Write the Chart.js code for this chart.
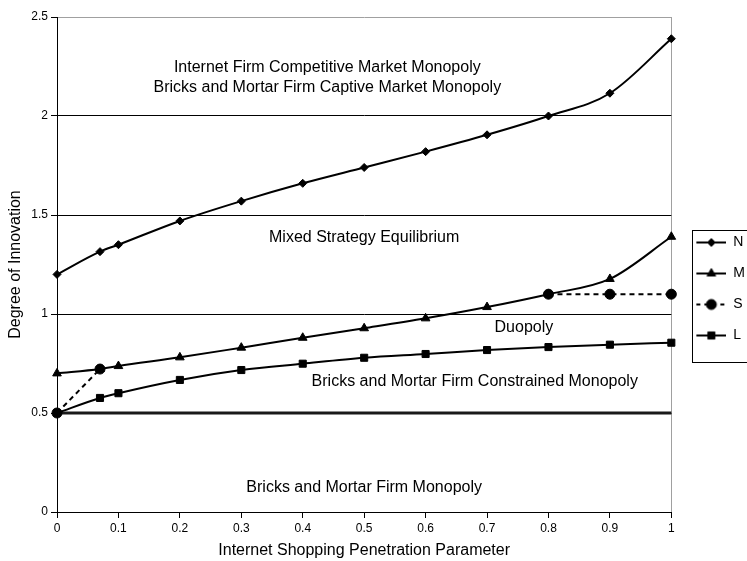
<!DOCTYPE html>
<html>
<head>
<meta charset="utf-8">
<script src="https://cdn.jsdelivr.net/npm/chart.js@4.4.1/dist/chart.umd.min.js"></script>
<style>
  html, body { margin: 0; padding: 0; background: #fff; overflow: hidden; }
  #wrap { width: 747px; height: 561px; overflow: hidden; }
  canvas { display: block; }
</style>
</head>
<body>
<div id="wrap"><canvas id="c" width="755" height="561"></canvas></div>
<script>
// Internet shopping penetration parameter (x) and the innovation thresholds
const penetration = [0, 0.07, 0.1, 0.2, 0.3, 0.4, 0.5, 0.6, 0.7, 0.8, 0.9, 1];
const seriesN = [1.2, 1.315, 1.35, 1.47, 1.57, 1.66, 1.74, 1.82, 1.905, 2.0, 2.115, 2.39];
const seriesM = [0.70, 0.722, 0.737, 0.781, 0.83, 0.88, 0.928, 0.978, 1.035, 1.1, 1.177, 1.39];
const seriesL = [0.5, 0.576, 0.6, 0.667, 0.717, 0.749, 0.779, 0.798, 0.818, 0.833, 0.845, 0.855];
const penetrationS = [0, 0.07, 0.8, 0.9, 1];
const seriesS = [0.5, 0.722, 1.1, 1.1, 1.1];
const boundaryX = [0, 1];
const boundaryY = [0.5, 0.5];
const seriesNames = ['N', 'M', 'S', 'L', 'Boundary'];

const xTickLabels = ['0', '0.1', '0.2', '0.3', '0.4', '0.5', '0.6', '0.7', '0.8', '0.9', '1'];
const yTickLabels = ['0', '0.5', '1', '1.5', '2', '2.5'];

// Region captions and where they sit (in data units)
const regionText = [
  'Internet Firm Competitive Market Monopoly',
  'Bricks and Mortar Firm Captive Market Monopoly',
  'Mixed Strategy Equilibrium',
  'Duopoly',
  'Bricks and Mortar Firm Constrained Monopoly',
  'Bricks and Mortar Firm Monopoly'
];
const regionAt = [[0.44, 2.242], [0.44, 2.141], [0.5, 1.385], [0.76, 0.931], [0.68, 0.658], [0.5, 0.121]];

const FONT = "'Liberation Sans', Arial, Helvetica, sans-serif";
Chart.defaults.font.family = FONT;
Chart.defaults.color = '#000';

const pts = (xs, ys) => xs.map((x, i) => ({ x: x, y: ys[i] }));

// Small line-and-marker samples for the legend
function legendSample(style, radius, dash) {
  const c = document.createElement('canvas');
  c.width = 38; c.height = 14;
  const g = c.getContext('2d');
  g.strokeStyle = '#000';
  g.fillStyle = '#000';
  g.lineWidth = 2;
  g.setLineDash(dash || []);
  g.beginPath(); g.moveTo(8, 7); g.lineTo(38, 7); g.stroke();
  g.setLineDash([]);
  g.lineWidth = 1;
  Chart.helpers.drawPoint(g, { pointStyle: style, radius: radius, rotation: 0, borderWidth: 1 }, 23, 7);
  return c;
}
const legendSamples = [
  legendSample('rectRot', 4),
  legendSample('triangle', 5),
  legendSample('circle', 5, [4, 4]),
  legendSample('rect', 5)
];

const regionPlugin = {
  id: 'regionText',
  afterDatasetsDraw(chart) {
    const { ctx, scales: { x, y } } = chart;
    ctx.save();
    ctx.font = '16px ' + FONT;
    ctx.fillStyle = '#000';
    ctx.textAlign = 'center';
    ctx.textBaseline = 'middle';
    regionText.forEach((t, i) => {
      ctx.fillText(t, x.getPixelForValue(regionAt[i][0]), y.getPixelForValue(regionAt[i][1]));
    });
    ctx.restore();
  }
};

const legendFramePlugin = {
  id: 'legendFrame',
  afterDraw(chart) {
    const hb = chart.legend && chart.legend.legendHitBoxes;
    if (!hb || !hb.length) return;
    const first = hb[0], last = hb[hb.length - 1];
    const ctx = chart.ctx;
    const left = Math.round(first.left + 4) + 0.5;
    const top = Math.round(first.top - 6) + 0.5;
    const bottom = Math.round(last.top + last.height + 19) + 0.5;
    ctx.save();
    ctx.strokeStyle = '#000';
    ctx.lineWidth = 1;
    ctx.strokeRect(left, top, chart.width - left + 20, bottom - top);
    ctx.restore();
  }
};

const common = {
  borderColor: '#000',
  backgroundColor: '#000',
  pointBackgroundColor: '#000',
  pointBorderColor: '#000',
  pointBorderWidth: 1,
  borderWidth: 2,
  fill: false,
  clip: false
};

new Chart(document.getElementById('c'), {
  type: 'line',
  data: {
    datasets: [
      Object.assign({}, common, {
        label: seriesNames[0], data: pts(penetration, seriesN),
        pointStyle: 'rectRot', pointRadius: 4, cubicInterpolationMode: 'monotone', order: 3
      }),
      Object.assign({}, common, {
        label: seriesNames[1], data: pts(penetration, seriesM),
        pointStyle: 'triangle', pointRadius: 5, cubicInterpolationMode: 'monotone', order: 2
      }),
      Object.assign({}, common, {
        label: seriesNames[2], data: pts(penetrationS, seriesS),
        pointStyle: 'circle', pointRadius: 5, borderDash: [5, 4], tension: 0, order: 0,
        segment: { borderColor: c => (c.p0DataIndex === 1 ? 'rgba(0,0,0,0)' : '#000') }
      }),
      Object.assign({}, common, {
        label: seriesNames[3], data: pts(penetration, seriesL),
        pointStyle: 'rect', pointRadius: 5, cubicInterpolationMode: 'monotone', order: 1
      }),
      Object.assign({}, common, {
        label: seriesNames[4], data: pts(boundaryX, boundaryY),
        borderColor: '#1a1a1a', borderWidth: 3, pointRadius: 0, tension: 0, order: 4
      })
    ]
  },
  options: {
    responsive: false,
    animation: false,
    devicePixelRatio: 1,
    layout: { padding: { top: 17, left: 0, right: 0, bottom: 0 } },
    plugins: {
      tooltip: { enabled: false },
      legend: {
        position: 'right',
        align: 'center',
        labels: {
          usePointStyle: true,
          pointStyleWidth: 38,
          padding: 17,
          color: '#000',
          font: { size: 14, family: FONT },
          filter: item => item.datasetIndex < 4,
          sort: (a, b) => a.datasetIndex - b.datasetIndex,
          generateLabels(chart) {
            const items = Chart.defaults.plugins.legend.labels.generateLabels(chart);
            items.forEach(it => { it.pointStyle = legendSamples[it.datasetIndex]; it.rotation = 0; });
            return items;
          }
        }
      }
    },
    scales: {
      x: {
        type: 'linear',
        min: 0, max: 1,
        afterFit: s => { s.height = 49; },
        ticks: {
          stepSize: 0.1, autoSkip: false, maxRotation: 0, padding: 3,
          font: { size: 12 }, color: '#000',
          callback: (v, i) => xTickLabels[i]
        },
        grid: {
          color: c => (c.tick && Math.abs(c.tick.value - 1) < 1e-9 ? '#a0a0a0' : 'rgba(0,0,0,0)'),
          tickColor: '#000', tickLength: 6, lineWidth: 1
        },
        border: { color: '#000', width: 1 },
        title: {
          display: true, text: 'Internet Shopping Penetration Parameter',
          font: { size: 16 }, color: '#000', padding: { top: 0, bottom: 1 }
        }
      },
      y: {
        min: 0, max: 2.5,
        afterFit: s => { s.width = 57; },
        ticks: {
          stepSize: 0.5, padding: 3,
          font: { size: 12 }, color: '#000',
          callback: (v, i) => yTickLabels[i]
        },
        grid: {
          color: c => (c.tick && c.tick.value >= 2.5 ? '#a0a0a0' : '#000'),
          tickColor: '#000', tickLength: 6, lineWidth: 1
        },
        border: { color: '#000', width: 1 },
        title: {
          display: true, text: 'Degree of Innovation',
          font: { size: 16 }, color: '#000', padding: { top: 6, bottom: 0 }
        }
      }
    }
  },
  plugins: [regionPlugin, legendFramePlugin]
});
</script>
</body>
</html>
